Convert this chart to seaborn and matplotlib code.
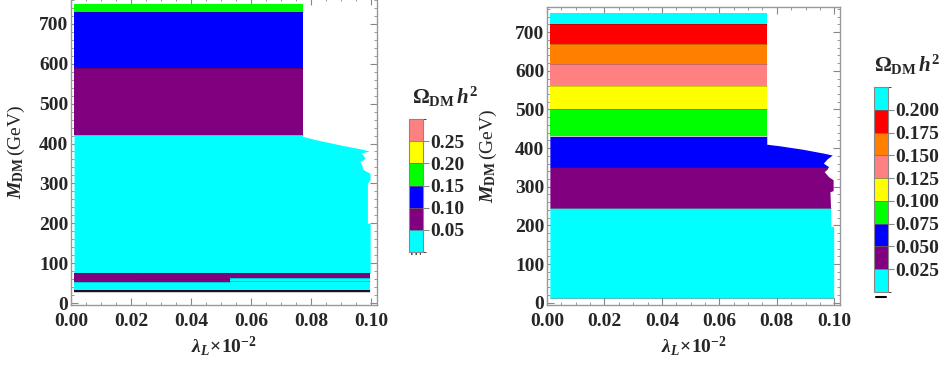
import numpy as np
import matplotlib
matplotlib.use("Agg")
import matplotlib.pyplot as plt
import seaborn as sns
from matplotlib.colors import ListedColormap, BoundaryNorm
from matplotlib.lines import Line2D
import matplotlib.colorbar as mcbar

sns.set_style("ticks")
plt.rcParams["font.family"] = ["Liberation Serif", "DejaVu Serif"]
plt.rcParams["font.weight"] = "bold"
plt.rcParams["mathtext.fontset"] = "custom"
plt.rcParams["mathtext.rm"] = "Liberation Serif:bold"
plt.rcParams["mathtext.it"] = "Liberation Serif:italic:bold"
plt.rcParams["mathtext.bf"] = "Liberation Serif:bold"

CYAN, PURPLE, BLUE, GREEN = "#00FFFF", "#800080", "#0000FF", "#00FF00"
YELLOW, SALMON, ORANGE, RED = "#FFFF00", "#FF8080", "#FF8000", "#FF0000"
DARK = "#200a30"

# ---- left panel data (M_DM in GeV, lambda_L x 1e-2) ----
left_rect_lo = [28, 33, 53, 62, 59, 54.5, 422, 590, 731]
left_rect_hi = [33, 62, 76, 76, 61, 55.5, 590, 731, 750]
left_rect_x0 = [0.001, 0.001, 0.001, 0.053, 0.022, 0.053, 0.001, 0.001, 0.001]
left_rect_x1 = [0.0997, 0.0997, 0.053, 0.0997, 0.053, 0.0997, 0.0772, 0.0772, 0.0772]
left_rect_col = [DARK, CYAN, PURPLE, PURPLE, CYAN, DARK, PURPLE, BLUE, GREEN]

left_band_lo = [76]
left_band_hi = [422]
left_band_col = [CYAN]
left_edge_M = [76, 200, 200, 300, 310, 325, 335, 345, 355, 362, 370, 376, 381, 386, 395, 409, 418, 422]
left_edge_x = [0.0997, 0.0997, 0.0988, 0.0988, 0.0997, 0.0997, 0.0973, 0.0970, 0.0963, 0.0980,
               0.0975, 0.0966, 0.0994, 0.0969, 0.0907, 0.0819, 0.0772, 0.0772]

left_levels = [0.0, 0.05, 0.10, 0.15, 0.20, 0.25, 0.30]
left_colors = [CYAN, PURPLE, BLUE, GREEN, YELLOW, SALMON]
left_ticks = [0.05, 0.10, 0.15, 0.20, 0.25]

# ---- right panel data ----
right_rect_lo = [430, 501, 560, 618, 669, 721]
right_rect_hi = [501, 560, 618, 669, 721, 750]
right_rect_x0 = [0.001] * 6
right_rect_x1 = [0.0765] * 6
right_rect_col = [GREEN, YELLOW, SALMON, ORANGE, RED, CYAN]

right_band_lo = [12, 245, 350]
right_band_hi = [245, 350, 430]
right_band_col = [CYAN, PURPLE, BLUE]
right_edge_M = [12, 197, 197, 245, 287, 290, 318, 326, 339, 346, 350, 352, 361, 372, 382, 387, 397, 406, 410, 430]
right_edge_x = [0.0998, 0.0998, 0.0988, 0.0987, 0.0985, 0.0996, 0.0996, 0.0980, 0.0965, 0.0976,
                0.0978, 0.0980, 0.0962, 0.0975, 0.0993, 0.0962, 0.0890, 0.0809, 0.0765, 0.0765]

right_levels = [0.0, 0.025, 0.05, 0.075, 0.10, 0.125, 0.15, 0.175, 0.20, 0.225]
right_colors = [CYAN, PURPLE, BLUE, GREEN, YELLOW, SALMON, ORANGE, RED, CYAN]
right_ticks = [0.025, 0.05, 0.075, 0.10, 0.125, 0.15, 0.175, 0.20]

W, H = 942, 369
FS = 14
fig = plt.figure(figsize=(W / 100, H / 100), dpi=100)


def draw_panel(ax, rlo, rhi, rx0, rx1, rcol, blo, bhi, bcol, eM, ex, ylim, ylab_x):
    eM = np.array(eM)
    ex = np.array(ex)
    for lo, hi, c in zip(blo, bhi, bcol):
        m = (eM >= lo) & (eM <= hi)
        ax.fill_betweenx(eM[m], 0.001, ex[m], color=c, lw=0)
        ax.plot([0.001, ex[m][0]], [lo, lo], color="k", alpha=0.25, lw=0.8)
    for lo, hi, x0, x1, c in zip(rlo, rhi, rx0, rx1, rcol):
        ax.barh(lo, x1 - x0, height=hi - lo, left=x0, align="edge", color=c, lw=0)
        ax.plot([x0, x1], [lo, lo], color="k", alpha=0.2, lw=0.7)
    ax.set_xlim(0, 0.102)
    ax.set_ylim(*ylim)
    ax.set_xticks(np.arange(0, 0.101, 0.02))
    ax.set_xticks(np.arange(0, 0.102, 0.005), minor=True)
    ax.set_yticks(np.arange(0, 701, 100))
    ax.set_yticks(np.arange(0, 761, 20), minor=True)
    ax.xaxis.set_major_formatter(matplotlib.ticker.FormatStrFormatter("%.2f"))
    ax.tick_params(which="both", direction="in", top=True, right=True, color="#888888",
                   labelsize=FS, pad=2)
    ax.tick_params(axis="x", pad=6)
    ax.tick_params(which="major", length=5)
    ax.tick_params(which="minor", length=2.5)
    for s in ax.spines.values():
        s.set_color("#999999")
        s.set_linewidth(1.0)
    ax.set_xlabel(r"$\lambda_{L}\!\times\!\mathrm{10}^{-2}$", fontsize=FS, labelpad=3)
    ax.set_ylabel(r"$M_{\mathrm{DM}}\,$(GeV)", fontsize=FS)
    ax.yaxis.set_label_coords(ylab_x, 0.5)


ax1 = fig.add_axes([71 / W, (H - 305) / H, 306 / W, 307 / H])
draw_panel(ax1, left_rect_lo, left_rect_hi, left_rect_x0, left_rect_x1, left_rect_col,
           left_band_lo, left_band_hi, left_band_col, left_edge_M, left_edge_x, (-5, 765),
           (27 - 71) / 306)

ax2 = fig.add_axes([547 / W, (H - 305) / H, 293 / W, 298 / H])
draw_panel(ax2, right_rect_lo, right_rect_hi, right_rect_x0, right_rect_x1, right_rect_col,
           right_band_lo, right_band_hi, right_band_col, right_edge_M, right_edge_x, (-6, 765),
           (499 - 547) / 293)


def draw_cbar(rect, levels, colors, ticks, fmt):
    cax = fig.add_axes(rect)
    cmap = ListedColormap(colors)
    norm = BoundaryNorm(levels, cmap.N)
    cb = mcbar.ColorbarBase(cax, cmap=cmap, norm=norm, boundaries=levels, ticks=ticks,
                            drawedges=True)
    cb.dividers.set_color("#666666")
    cb.dividers.set_linewidth(0.5)
    cb.outline.set_edgecolor("#888888")
    cb.outline.set_linewidth(0.8)
    cax.yaxis.set_major_formatter(matplotlib.ticker.FormatStrFormatter(fmt))
    cax.tick_params(length=4, width=0.8, color="#888888", labelsize=FS, pad=1)
    return cax


draw_cbar([409 / W, (H - 252) / H, 14 / W, 133 / H], left_levels, left_colors, left_ticks, "%.2f")
draw_cbar([874 / W, (H - 292) / H, 14 / W, 205 / H], right_levels, right_colors, right_ticks, "%.3f")

fig.text(412 / W, 1 - 97 / H, r"$\Omega_{\mathrm{DM}}\,h^2$", fontsize=15, va="center", ha="left")
fig.text(874 / W, 1 - 65 / H, r"$\Omega_{\mathrm{DM}}\,h^2$", fontsize=15, va="center", ha="left")

fig.add_artist(Line2D([411 / W, 421 / W], [1 - 254 / H] * 2, color="#333333", lw=1.2, ls=":"))
fig.add_artist(Line2D([876 / W, 886 / W], [1 - 297 / H] * 2, color="black", lw=1.5))

fig.savefig("out.png", dpi=100)
